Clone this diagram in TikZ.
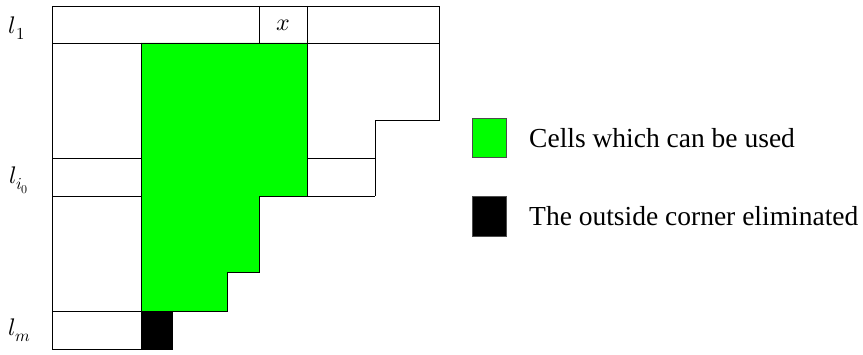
\documentclass[tikz,border=0pt]{standalone}
\usepackage{fontspec}
\setmainfont{Liberation Serif}
\usepackage{unicode-math}
\setmathfont{Latin Modern Math}
\definecolor{cellgreen}{RGB}{0,255,0}
\begin{document}
\begin{tikzpicture}[x=1pt,y=-1pt,
  gridline/.style={draw=black,line width=0.9pt},
  rowlabel/.style={font=\fontsize{24}{28}\selectfont},
  legendtext/.style={anchor=west,font=\fontsize{27.5}{33}\selectfont,inner sep=0pt},
  legendbox/.style={draw=black!70,line width=0.8pt}]
\useasboundingbox (0,0) rectangle (863,355);
% green region
\fill[cellgreen] (141,43) -- (307,43) -- (307,196) -- (259,196) -- (259,272) -- (227,272) -- (227,311) -- (141,311) -- cycle;
% eliminated corner
\fill[black] (141,311) rectangle (173,349);
% first row
\draw[gridline] (52,6) rectangle (439,43);
\draw[gridline] (259,6) -- (259,43);
\draw[gridline] (307,6) -- (307,43);
% left column
\draw[gridline] (52,43) -- (52,349) -- (173,349);
\draw[gridline] (141,43) -- (141,349);
\draw[gridline] (52,158) -- (141,158);
\draw[gridline] (52,196) -- (141,196);
\draw[gridline] (52,311) -- (141,311);
% green outline
\draw[gridline] (307,43) -- (307,196);
\draw[gridline] (141,311) -- (227,311) -- (227,272) -- (259,272) -- (259,196) -- (375,196);
% right part
\draw[gridline] (439,43) -- (439,120) -- (375,120) -- (375,196);
\draw[gridline] (307,158) -- (375,158);
% labels
\node[rowlabel] (x) at (283,25) {$x$};
\node[rowlabel] (l1) at (17,28) {$l_1$};
\node[rowlabel] (li) at (19,180) {$l_{i_0}$};
\node[rowlabel] (lm) at (20,330) {$l_m$};
% legend
\filldraw[legendbox,fill=cellgreen] (472,118) rectangle (506,157);
\filldraw[legendbox,fill=black] (472,196) rectangle (506,236);
\node[legendtext] (t1) at (529,138) {Cells which can be used};
\node[legendtext] (t2) at (529,216) {The outside corner eliminated};
\end{tikzpicture}
\end{document}
